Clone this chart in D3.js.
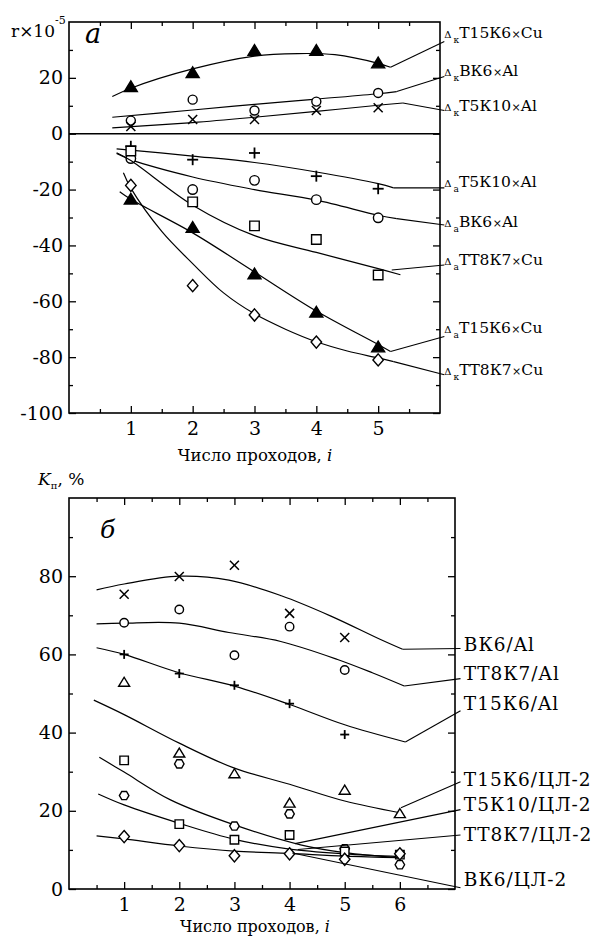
<!DOCTYPE html>
<html>
<head>
<meta charset="utf-8">
<script src="https://cdn.jsdelivr.net/npm/d3@7"></script>
<style>
  body { margin: 0; background: #fff; }
  svg { font-family: "DejaVu Serif", serif; }
</style>
</head>
<body>
<script>
var width = 593;
var height = 937;

// ---------- panel a : r x 10^-5 versus number of passes ----------
var passesA = [1, 2, 3, 4, 5];
// measured points
var kT15K6Cu = [17, 22, 30, 30, 25.5];
var kBK6Al = [4.7, 12.2, 8.3, 11.5, 14.6];
var kT5K10Al = [2.6, 5.1, 5.1, 8.3, 9.3];
var aT5K10Al = [-4.5, -9.3, -6.9, -15.2, -19.7];
var aBK6Al = [-8.9, -20, -16.7, -23.6, -30.1];
var aTT8K7Cu = [-6.2, -24.4, -33, -37.9, -50.6];
var aT15K6Cu = [-23.3, -33.4, -50, -63.7, -76.2];
var kTT8K7Cu = [-18.5, -54.4, -64.9, -74.6, -81];
// fitted curves [pass, value]
var fitKT15K6Cu = [[0.7, 13.3], [1, 16.3], [2, 23.2], [3, 27.8], [3.7, 28.7], [4.3, 28.3], [5, 25.2], [5.2, 23.8]];
var fitKBK6Al = [[0.7, 5.9], [2, 8.5], [3, 10.5], [4, 12.4], [5, 14.3], [5.3, 15.1]];
var fitKT5K10Al = [[0.7, 2.1], [2, 4], [3, 5.9], [4, 8], [5, 10.2], [5.4, 11]];
var fitAT5K10Al = [[0.77, -5.4], [2, -8], [3, -10.3], [4, -13.7], [5, -17.9], [5.25, -19.4]];
var fitABK6Al = [[0.77, -7.1], [1, -9.3], [2, -15.5], [3, -20], [4, -23.8], [5, -29.2], [5.3, -30.4]];
var fitATT8K7Cu = [[0.77, -6.8], [1, -9.6], [2, -25.6], [3, -36.5], [4, -42.5], [5, -48.3], [5.36, -50.5]];
var fitAT15K6Cu = [[0.82, -20.8], [1, -23.5], [2, -35.5], [3, -49.5], [4, -63.5], [5, -75.5], [5.2, -78]];
var fitKTT8K7Cu = [[0.88, -14], [1, -19.5], [1.5, -35], [2, -46.5], [2.5, -57], [3, -64.5], [3.5, -70], [4, -74.5], [4.5, -77.8], [5, -80.3], [5.25, -81.6]];
var ticksYA = [20, 0, -20, -40, -60, -80, -100];

// ---------- panel b : K_p, % versus number of passes ----------
var passesB = [1, 2, 3, 4, 5, 6];
var bBK6Al = [75.4, 79.9, 82.8, 70.5, 64.3];
var bTT8K7Al = [68.1, 71.5, 59.8, 67.1, 56];
var bT15K6Al = [60, 55.1, 52.1, 47.4, 39.5];
var bT15K6CL = [53, 34.9, 29.6, 22.1, 25.4, 19.4];
var bT5K10CL = [23.9, 32, 16.1, 19.2, 10.3, 6.2];
var bTT8K7CL = [32.9, 16.6, 12.6, 13.8, 9.6, 8.8];
var bBK6CL = [13.4, 11.1, 8.5, 9, 7.6, 9];
var fitBBK6Al = [[0.5, 76.5], [1, 78], [2, 80], [2.9, 79], [3.85, 75], [4.75, 69.8], [5.65, 63.8], [6.05, 61.3]];
var fitBTT8K7Al = [[0.5, 67.8], [1, 68], [2, 68], [2.9, 65.6], [3.84, 63.3], [4.87, 58.7], [5.5, 55.3], [6.08, 51.9]];
var fitBT15K6Al = [[0.5, 61.7], [1, 60], [2, 55.3], [3, 51.9], [4, 47.2], [5, 42], [6.1, 37.6]];
var fitBT15K6CL = [[0.45, 48.3], [1, 44.6], [2, 37.3], [3, 30.9], [4, 26.8], [5, 22.5], [6, 19.5]];
var fitBT5K10CL = [[0.55, 33.7], [1, 29.9], [1.84, 22.8], [3, 16.4], [4.2, 11.3], [5, 9.3], [6, 8]];
var fitBTT8K7CL = [[0.53, 24.3], [1, 21.5], [2, 16.8], [3, 12.7], [4, 10.2], [5, 9], [6, 8.3]];
var fitBBK6CL = [[0.5, 13.6], [1, 12.8], [2, 11], [3, 9.7], [4, 9.1], [5, 8.4], [6, 8]];
var ticksYB = [0, 20, 40, 60, 80];

var svg = d3.select("body")
            .append("svg")
            .attr("width", width)
            .attr("height", height);

svg.append("rect").attr("width", width).attr("height", height).attr("fill", "#fff");

// scales
var xA = d3.scaleLinear().domain([0, 6]).range([69, 440]);
var yA = d3.scaleLinear().domain([-100, 40]).range([413, 22]);
var xB = d3.scaleLinear().domain([0, 7]).range([69, 455]);
var yB = d3.scaleLinear().domain([0, 100]).range([889, 498]);

function steps(a, b, s) {
  return d3.range(a, b + 1e-9, s);
}

// frame with inward ticks on all four sides
function frame(x, y, majX, minX, majY, minY) {
  var g = svg.append("g");
  var x0 = x.range()[0], x1 = x.range()[1], y0 = y.range()[0], y1 = y.range()[1];

  function ax(axis, tx, ty, vals, size, labels, pad) {
    var a = g.append("g")
             .attr("transform", "translate(" + tx + "," + ty + ")")
             .call(axis.tickValues(vals).tickSizeInner(-size).tickSizeOuter(0)
                       .tickPadding(pad || 0)
                       .tickFormat(labels ? function(d) { return String(d); } : ""));
    a.select(".domain").remove();
    a.selectAll("line").attr("stroke", "#000").attr("stroke-width", 1.3);
    a.selectAll("text").attr("font-family", "DejaVu Serif").attr("font-size", 19).attr("fill", "#000");
    a.attr("font-family", null).attr("font-size", null);
  }
  ax(d3.axisBottom(x), 0, y0, majX, 7, true, 9);
  ax(d3.axisBottom(x), 0, y0, minX, 4, false);
  ax(d3.axisTop(x), 0, y1, majX, 7, false);
  ax(d3.axisTop(x), 0, y1, minX, 4, false);
  ax(d3.axisLeft(y), x0, 0, majY, 7, true, 6);
  ax(d3.axisLeft(y), x0, 0, minY, 4, false);
  ax(d3.axisRight(y), x1, 0, majY, 7, false);
  ax(d3.axisRight(y), x1, 0, minY, 4, false);

  g.append("rect")
   .attr("x", x0).attr("y", y1)
   .attr("width", x1 - x0).attr("height", y0 - y1)
   .attr("fill", "none").attr("stroke", "#000").attr("stroke-width", 1.6);
}

// marker shapes
function drawMarker(g, type, cx, cy, s) {
  var h, p;
  if (type == "circle") {
    g.append("circle").attr("cx", cx).attr("cy", cy).attr("r", s / 2)
     .attr("fill", "#fff").attr("stroke", "#000").attr("stroke-width", 1.4);
    return;
  }
  if (type == "cross" || type == "plus") {
    var r = s / 2;
    var segs = type == "cross"
      ? [[-r, -r, r, r], [-r, r, r, -r]]
      : [[-r, 0, r, 0], [0, -r, 0, r]];
    segs.forEach(function(q) {
      g.append("line")
       .attr("x1", cx + q[0]).attr("y1", cy + q[1])
       .attr("x2", cx + q[2]).attr("y2", cy + q[3])
       .attr("stroke", "#000").attr("stroke-width", type == "plus" ? 1.8 : 1.5);
    });
    return;
  }
  if (type == "triangle" || type == "triFill") {
    h = s * 0.82;
    p = [[0, -h / 2], [s / 2, h / 2], [-s / 2, h / 2]];
  } else if (type == "square") {
    p = [[-s / 2, -s / 2], [s / 2, -s / 2], [s / 2, s / 2], [-s / 2, s / 2]];
  } else if (type == "diamond") {
    p = [[0, -s * 0.58], [s / 2, 0], [0, s * 0.58], [-s / 2, 0]];
  } else if (type == "hexagon") {
    p = d3.range(6).map(function(i) {
      var t = Math.PI / 3 * i;
      return [Math.cos(t) * s / 2, Math.sin(t) * s / 2];
    });
  }
  g.append("path")
   .attr("d", "M" + p.map(function(q) { return (cx + q[0]) + "," + (cy + q[1]); }).join("L") + "Z")
   .attr("fill", type == "triFill" ? "#000" : "#fff")
   .attr("stroke", "#000").attr("stroke-width", 1.4)
   .attr("stroke-linejoin", "miter");
}

function drawSeries(x, y, passes, values, fit, type, size) {
  var g = svg.append("g");
  var line = d3.line()
               .x(function(d) { return x(d[0]); })
               .y(function(d) { return y(d[1]); })
               .curve(d3.curveCatmullRom.alpha(0.5));
  g.append("path").attr("d", line(fit))
   .attr("fill", "none").attr("stroke", "#000").attr("stroke-width", 1.2);
  values.forEach(function(v, i) {
    drawMarker(svg, type, x(passes[i]), y(v), size);
  });
}

function leader(x, y, a, b) {
  svg.append("line")
     .attr("x1", x(a[0])).attr("y1", y(a[1]))
     .attr("x2", x(b[0])).attr("y2", y(b[1]))
     .attr("stroke", "#000").attr("stroke-width", 1.1);
}

// ================= panel a =================
frame(xA, yA, passesA, steps(0.5, 5.5, 1), ticksYA, steps(-90, 30, 20));

svg.append("line")
   .attr("x1", xA(0)).attr("x2", xA(6))
   .attr("y1", yA(0)).attr("y2", yA(0))
   .attr("stroke", "#000").attr("stroke-width", 1.4);

// curves first, markers drawn on top per series
var seriesA = [
  [kBK6Al, fitKBK6Al, "circle", 9],
  [kT5K10Al, fitKT5K10Al, "cross", 9],
  [kT15K6Cu, fitKT15K6Cu, "triFill", 13],
  [aT5K10Al, fitAT5K10Al, "plus", 11],
  [aBK6Al, fitABK6Al, "circle", 9.5],
  [aTT8K7Cu, fitATT8K7Cu, "square", 9.5],
  [kTT8K7Cu, fitKTT8K7Cu, "diamond", 10.5],
  [aT15K6Cu, fitAT15K6Cu, "triFill", 13]
];
seriesA.forEach(function(s) {
  drawSeries(xA, yA, passesA, s[0], s[1], s[2], s[3]);
});

// labels on the right of panel a: [subscript, grade, metal, baseline value, leader start, leader end value]
var labelsA = [
  ["к", "Т15К6", "Cu", 34.4, [5.2, 23.8], 33.0],
  ["к", "ВК6", "Al", 20.5, [5.3, 15.1], 20.5],
  ["к", "Т5К10", "Al", 8.3, [5.4, 11], 8.3],
  ["а", "Т5К10", "Al", -19.1, [5.25, -19.4], -19.4],
  ["а", "ВК6", "Al", -33.3, [5.3, -30.4], -32.7],
  ["а", "ТТ8К7", "Cu", -47, [5.22, -48.8], -47],
  ["а", "Т15К6", "Cu", -71.3, [5.2, -78], -72.6],
  ["к", "ТТ8К7", "Cu", -86.3, [5.25, -81.6], -86.3]
];
labelsA.forEach(function(l) {
  leader(xA, yA, l[4], [6.07, l[5]]);
  var t = svg.append("text")
             .attr("x", xA(6.07))
             .attr("y", yA(l[3]))
             .attr("fill", "#000");
  t.append("tspan").attr("font-size", 10).text("Δ");
  t.append("tspan").attr("font-size", 9).attr("dx", 2).attr("dy", 5).text(l[0]);
  t.append("tspan").attr("font-size", 15.5).attr("dy", -5).text(l[1]);
  t.append("tspan").attr("font-size", 11).attr("dx", 0.5).text("×");
  t.append("tspan").attr("font-size", 15.5).text(l[2]);
});

// y title and panel letter
var ta = svg.append("text").attr("x", 11).attr("y", 37).attr("font-size", 17);
ta.append("tspan").text("r×10");
ta.append("tspan").attr("font-size", 11).attr("dy", -13).text("-5");

svg.append("text").attr("x", 85).attr("y", 43)
   .attr("font-size", 27).attr("font-style", "italic").text("а");

var xt = svg.append("text").attr("x", 255).attr("y", 461)
            .attr("text-anchor", "middle").attr("font-size", 16.5);
xt.append("tspan").text("Число проходов, ");
xt.append("tspan").attr("font-style", "italic").text("i");

// ================= panel b =================
frame(xB, yB, passesB, steps(0.5, 6.5, 1), ticksYB, steps(10, 90, 20));

var seriesB = [
  [bBK6Al, fitBBK6Al, "cross", 9],
  [bTT8K7Al, fitBTT8K7Al, "circle", 8.5],
  [bT15K6Al, fitBT15K6Al, "plus", 9],
  [bT15K6CL, fitBT15K6CL, "triangle", 11],
  [bT5K10CL, fitBT5K10CL, "hexagon", 9.5],
  [bTT8K7CL, fitBTT8K7CL, "square", 8.5],
  [bBK6CL, fitBBK6CL, "diamond", 10.5]
];
seriesB.forEach(function(s) {
  drawSeries(xB, yB, passesB, s[0], s[1], s[2], s[3]);
});

// labels on the right of panel b: [text, baseline value, leader start, leader end value]
var labelsB = [
  ["ВК6/Al", 60.8, [6.05, 61.3], 61.5],
  ["ТТ8К7/Al", 53.4, [6.08, 51.9], 53.8],
  ["Т15К6/Al", 45.9, [6.1, 37.6], 45.6],
  ["Т15К6/ЦЛ-2", 26.4, [6.02, 20.8], 27.4],
  ["Т5К10/ЦЛ-2", 20, [4.1, 11.6], 20.3],
  ["ТТ8К7/ЦЛ-2", 12.2, [4.15, 10.1], 13.8],
  ["ВК6/ЦЛ-2", 0.8, [4.05, 9.2], 0.3]
];
labelsB.forEach(function(l) {
  leader(xB, yB, l[2], [7.1, l[3]]);
  svg.append("text")
     .attr("x", xB(7.16))
     .attr("y", yB(l[1]))
     .attr("font-size", 18.5)
     .attr("letter-spacing", 1)
     .text(l[0]);
});

var tb = svg.append("text").attr("x", 38).attr("y", 485).attr("font-size", 17);
tb.append("tspan").attr("font-style", "italic").text("K");
tb.append("tspan").attr("font-size", 10).attr("dy", 4).text("п");
tb.append("tspan").attr("dy", -4).text(", %");

svg.append("text").attr("x", 100).attr("y", 538)
   .attr("font-size", 25).attr("font-style", "italic").text("б");

var xt2 = svg.append("text").attr("x", 255).attr("y", 932)
             .attr("text-anchor", "middle").attr("font-size", 16);
xt2.append("tspan").text("Число проходов, ");
xt2.append("tspan").attr("font-style", "italic").text("i");
</script>
</body>
</html>
